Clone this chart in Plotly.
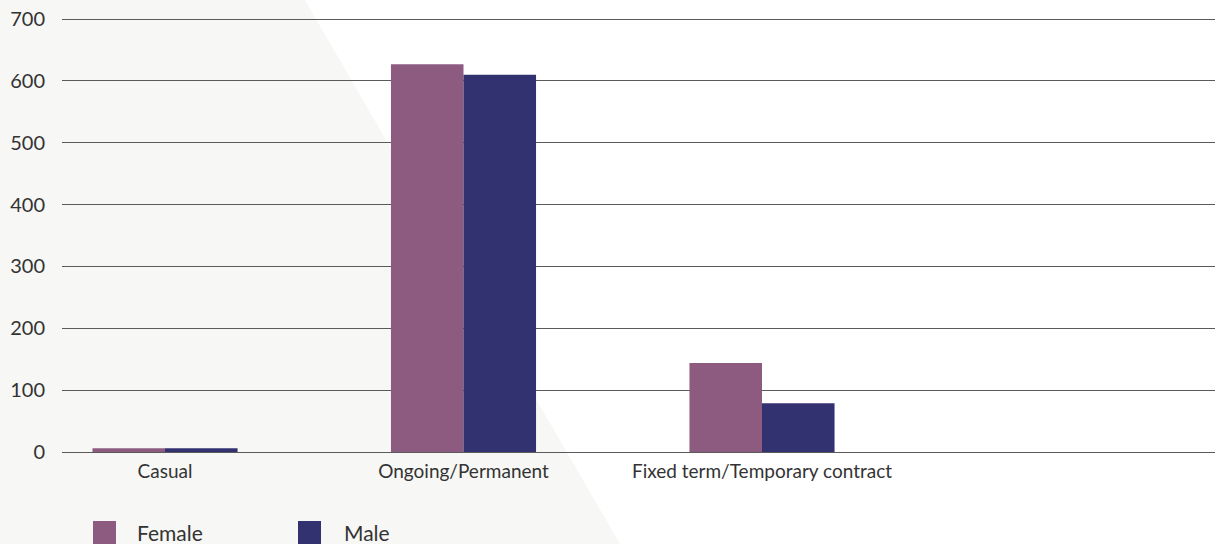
import plotly.graph_objects as go

# Employment type by gender
categories = ["Casual", "Ongoing/Permanent", "Fixed term/Temporary contract"]
female = [6, 627, 144]
male = [6, 610, 79]
y_ticks = [0, 100, 200, 300, 400, 500, 600, 700]

FEMALE_COLOR = "#8e5b80"
MALE_COLOR = "#333270"
TEXT_COLOR = "#333333"
GRID_COLOR = "#5a5a5a"

W, H = 1218, 544
M_L, M_R, M_T, M_B = 62, 3, 15, 92
PW, PH = W - M_L - M_R, H - M_T - M_B

# y range runs a few pixels past 700 so the top gridline is not clipped
PAD_PX = 4
y_top = 700 * (PH) / (PH - PAD_PX)


def px_x(px):
    return (px - M_L) / PW


def px_y(py):
    return (H - M_B - py) / PH


fig = go.Figure()
fig.add_trace(go.Bar(name="Female", x=categories, y=female, marker_color=FEMALE_COLOR,
                     marker_line_width=0, showlegend=False))
fig.add_trace(go.Bar(name="Male", x=categories, y=male, marker_color=MALE_COLOR,
                     marker_line_width=0, showlegend=False))

# light diagonal panel behind the plot
bg_path = "M {x0},{y0} L {x1},{y0} L {x2},{y1} L {x0},{y1} Z".format(
    x0=px_x(0), x1=px_x(305), x2=px_x(620), y0=px_y(0), y1=px_y(H))
shapes = [dict(type="path", path=bg_path, xref="paper", yref="paper",
               fillcolor="#f7f7f5", line_width=0, layer="below")]

# legend swatches and labels
annotations = []
legend_items = [("Female", FEMALE_COLOR, 93, 135), ("Male", MALE_COLOR, 298, 342)]
for label, color, sx, tx in legend_items:
    shapes.append(dict(type="rect", xref="paper", yref="paper",
                       x0=px_x(sx), x1=px_x(sx + 23), y0=px_y(521), y1=px_y(546),
                       fillcolor=color, line_width=0, layer="above"))
    annotations.append(dict(text=label, xref="paper", yref="paper",
                            x=px_x(tx), y=px_y(532), xanchor="left", yanchor="middle",
                            showarrow=False, font=dict(size=21, color=TEXT_COLOR)))

fig.update_layout(
    width=W, height=H,
    margin=dict(l=M_L, r=M_R, t=M_T, b=M_B),
    paper_bgcolor="white",
    plot_bgcolor="rgba(0,0,0,0)",
    font=dict(family="Lato, sans-serif", color=TEXT_COLOR),
    barmode="group",
    bargap=0.514,
    bargroupgap=0,
    shapes=shapes,
    annotations=annotations,
    showlegend=False,
)
fig.update_xaxes(
    type="category",
    range=[(M_L - 165) / 298.5, (W - M_R - 165) / 298.5],
    showgrid=False, showline=False, zeroline=False,
    ticks="", tickfont=dict(size=19, color=TEXT_COLOR),
    ticklabelstandoff=6,
)
fig.update_yaxes(
    range=[0, y_top], tickvals=y_ticks,
    showgrid=True, gridcolor=GRID_COLOR, gridwidth=1,
    zeroline=True, zerolinecolor=GRID_COLOR, zerolinewidth=1,
    showline=False, ticks="", tickfont=dict(size=20, color=TEXT_COLOR),
    ticklabelstandoff=16,
)

fig.write_html("out.html")
